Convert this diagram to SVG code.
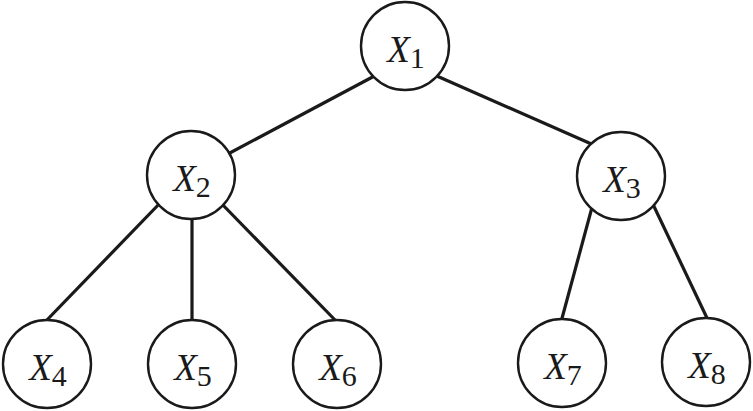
<svg xmlns="http://www.w3.org/2000/svg" width="753" height="411" viewBox="0 0 753 411">
<style>
.n{fill:#fff;stroke:#1a1a1a;stroke-width:2.4}
.e{stroke:#1a1a1a;stroke-width:3.2;fill:none}
</style>
<rect width="753" height="411" fill="#fff"/>
<g id="edges">
<line class="e" x1="380" y1="73" x2="226" y2="155"/>
<line class="e" x1="430" y1="73" x2="596" y2="146"/>
<line class="e" x1="162" y1="201" x2="45" y2="322"/>
<line class="e" x1="192" y1="210" x2="192" y2="322"/>
<line class="e" x1="219" y1="201" x2="337" y2="322"/>
<line class="e" x1="594" y1="200" x2="561" y2="322"/>
<line class="e" x1="650" y1="198" x2="707" y2="318"/>
</g>
<g font-family="Times New Roman, Liberation Serif, serif" font-style="italic" font-size="37" fill="#1a1a1a" text-anchor="middle">
<g id="X1"><circle class="n" cx="405" cy="46" r="44"/><text x="406" y="62">X<tspan dy="6" font-style="normal" font-size="30">1</tspan></text></g>
<g id="X2"><circle class="n" cx="191" cy="175" r="44"/><text x="192" y="191">X<tspan dy="6" font-style="normal" font-size="30">2</tspan></text></g>
<g id="X3"><circle class="n" cx="621" cy="176" r="44"/><text x="622" y="192">X<tspan dy="6" font-style="normal" font-size="30">3</tspan></text></g>
<g id="X4"><circle class="n" cx="47" cy="364" r="44"/><text x="48" y="380">X<tspan dy="6" font-style="normal" font-size="30">4</tspan></text></g>
<g id="X5"><circle class="n" cx="192" cy="364" r="44"/><text x="193" y="380">X<tspan dy="6" font-style="normal" font-size="30">5</tspan></text></g>
<g id="X6"><circle class="n" cx="337" cy="364" r="44"/><text x="338" y="380">X<tspan dy="6" font-style="normal" font-size="30">6</tspan></text></g>
<g id="X7"><circle class="n" cx="562" cy="363" r="44"/><text x="563" y="379">X<tspan dy="6" font-style="normal" font-size="30">7</tspan></text></g>
<g id="X8"><circle class="n" cx="706" cy="362" r="44"/><text x="707" y="378">X<tspan dy="6" font-style="normal" font-size="30">8</tspan></text></g>
</g>
</svg>
